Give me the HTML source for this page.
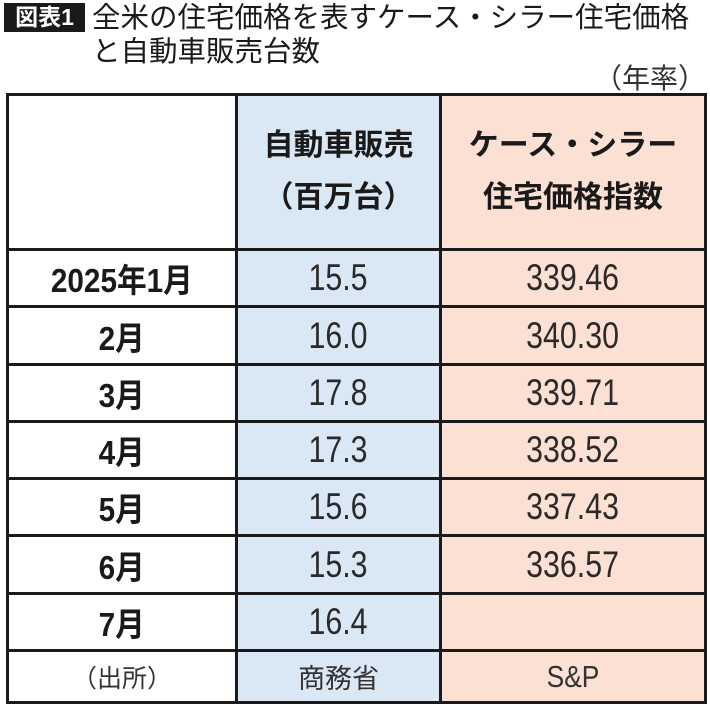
<!DOCTYPE html>
<html><head><meta charset="utf-8">
<style>
body{margin:0;width:710px;height:711px;background:#fff;position:relative;overflow:hidden;font-family:"Liberation Sans","Noto Sans CJK JP",sans-serif;color:#1a1a1a}
.abs{position:absolute}
.badge{left:4px;top:3px;width:81px;height:29px;background:#1a1a1a;color:#fff;font-weight:bold;font-size:23px;line-height:29px;text-align:center}
.t{font-size:28.5px;line-height:34px;left:92px;white-space:nowrap}
.cell{position:absolute;display:flex;align-items:center;justify-content:center;box-sizing:border-box;border:3px solid #1a1a1a;margin:0}
.num{display:inline-block;transform:scaleX(0.82);font-size:37px;color:#2a2a2a}
</style></head><body>
<div class="abs badge">図表1</div>
<div class="abs t" style="top:1px">全米の住宅価格を表すケース・シラー住宅価格</div>
<div class="abs t" style="top:35px">と自動車販売台数</div>
<div class="abs" style="right:4px;top:57px;font-size:28px;color:#333">（年率）</div>
<div id="tbl"></div>
<script>
const months=["2025年1月","2月","3月","4月","5月","6月","7月"];
const carSales=["15.5","16.0","17.8","17.3","15.6","15.3","16.4"];
const caseShiller=["339.46","340.30","339.71","338.52","337.43","336.57",""];
const sources=["（出所）","商務省","S&P"];
const colX=[7,236,440,705];
const rowY=[94,249,306,364,421,478,535,593,650,702];
const bg=["#ffffff","#dae8f6","#fbe0d3"];
const tbl=document.getElementById('tbl');
function cell(c,r,html,style,name){
  const d=document.createElement('div');
  d.className='cell';
  d.style.left=(colX[c]-1)+'px';d.style.top=(rowY[r]-1)+'px';
  d.style.width=(colX[c+1]-colX[c]+3)+'px';d.style.height=(rowY[r+1]-rowY[r]+3)+'px';
  d.style.background=bg[c];
  d.style.cssText+=style;
  d.innerHTML=html;
  
  
  tbl.appendChild(d);
}
cell(0,0,'','','header-blank');
cell(1,0,'<div style="text-align:center;line-height:52px">自動車販売<br>（百万台）</div>','font-weight:bold;font-size:30px;','header-car-sales');
cell(2,0,'<div style="text-align:center;line-height:52px">ケース・シラー<br>住宅価格指数</div>','font-weight:bold;font-size:30px;','header-case-shiller');
for(let i=0;i<months.length;i++){
  cell(0,i+1,'<span style="display:inline-block;transform:scaleX(0.9)">'+months[i]+'</span>','font-weight:bold;font-size:33px;','month-label');
  cell(1,i+1,'<span class="num">'+carSales[i]+'</span>','','car-sales-value');
  cell(2,i+1,'<span class="num">'+caseShiller[i]+'</span>','','case-shiller-value');
}
const sr=months.length+1;
cell(0,sr,sources[0],'font-size:25px;color:#333;','source-label');
cell(1,sr,sources[1],'font-size:27px;color:#333;','source-car-sales');
cell(2,sr,'<span style="display:inline-block;transform:scaleX(0.85)">'+sources[2]+'</span>','font-size:31px;color:#333;','source-case-shiller');
</script>
</body></html>
